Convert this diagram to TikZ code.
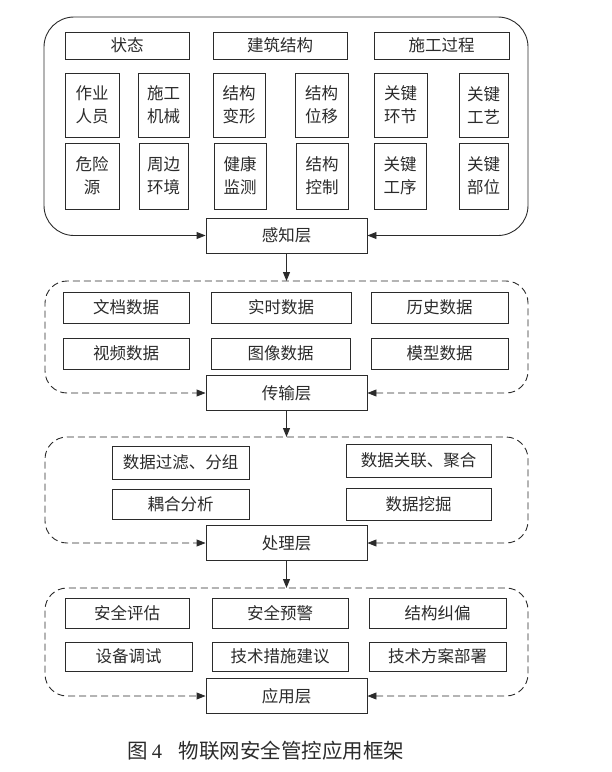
\documentclass[tikz,border=0pt]{standalone}
\usepackage{fontspec}
\setmainfont{Noto Sans CJK SC}
\newfontfamily\numfont{Liberation Serif}
\usetikzlibrary{arrows.meta}
\definecolor{ink}{HTML}{2B2B2B}
\tikzset{
  bx/.style={draw=ink, line width=0.9pt, inner sep=0pt, align=center, text=ink,
    font=\fontsize{16.5}{23}\selectfont},
  layerbox/.style={bx, minimum width=161pt, minimum height=35pt, fill=white},
  arr/.style={draw=ink, line width=0.9pt, -{Triangle[length=9pt,width=7pt]}},
  biarr/.style={draw=ink, line width=0.9pt, {Triangle[length=9pt,width=7pt]}-{Triangle[length=9pt,width=7pt]}},
  dash box/.style={dash pattern=on 7pt off 4pt}
}
\begin{document}
\begin{tikzpicture}[x=1pt,y=-1pt]
\useasboundingbox (0,0) rectangle (612,772);
% ---------- layer 1 ----------
\node[bx, minimum width=124pt, minimum height=27pt] (zt) at (127,45.5) {状态};
\node[bx, minimum width=134pt, minimum height=27pt] (jz) at (280,45.5) {建筑结构};
\node[bx, minimum width=135pt, minimum height=27pt] (sg) at (441.5,45.5) {施工过程};
\node[bx, minimum width=54pt, minimum height=64pt] (a1) at (92,105) {作业\\人员};
\node[bx, minimum width=51pt, minimum height=64pt] (a2) at (163.5,105) {施工\\机械};
\node[bx, minimum width=52pt, minimum height=64pt] (a3) at (239,105) {结构\\变形};
\node[bx, minimum width=53pt, minimum height=64pt] (a4) at (321.5,105) {结构\\位移};
\node[bx, minimum width=53pt, minimum height=64pt] (a5) at (400.5,105) {关键\\环节};
\node[bx, minimum width=49pt, minimum height=64pt] (a6) at (483.5,105) {关键\\工艺};
\node[bx, minimum width=54pt, minimum height=66pt] (b1) at (92,176) {危险\\源};
\node[bx, minimum width=49pt, minimum height=66pt] (b2) at (163.5,176) {周边\\环境};
\node[bx, minimum width=52pt, minimum height=66pt] (b3) at (240,176) {健康\\监测};
\node[bx, minimum width=52pt, minimum height=66pt] (b4) at (322,176) {结构\\控制};
\node[bx, minimum width=52pt, minimum height=66pt] (b5) at (400,176) {关键\\工序};
\node[bx, minimum width=49pt, minimum height=66pt] (b6) at (483.5,176) {关键\\部位};
\node[layerbox] (L1) at (286.5,235.5) {感知层};
\draw[biarr, rounded corners=30pt] (L1.east) -- (528,235.5) -- (528,17) -- (44,17) -- (44,235.5) -- (L1.west);
% ---------- layer 2 ----------
\coordinate (t2) at (286.5,281);
\draw[arr] (L1.south) -- (t2);
\node[bx, minimum width=126pt, minimum height=31pt] (c1) at (126,307.5) {文档数据};
\node[bx, minimum width=140pt, minimum height=31pt] (c2) at (281,307.5) {实时数据};
\node[bx, minimum width=137pt, minimum height=31pt] (c3) at (439.5,307.5) {历史数据};
\node[bx, minimum width=126pt, minimum height=31pt] (d1) at (126,353.5) {视频数据};
\node[bx, minimum width=139pt, minimum height=31pt] (d2) at (280.5,353.5) {图像数据};
\node[bx, minimum width=137pt, minimum height=31pt] (d3) at (439.5,353.5) {模型数据};
\node[layerbox] (L2) at (286.5,393) {传输层};
\draw[biarr, dash box, rounded corners=22pt] (L2.east) -- (528,393) -- (528,281) -- (45,281) -- (45,393) -- (L2.west);
% ---------- layer 3 ----------
\coordinate (t3) at (286.5,437);
\draw[arr] (L2.south) -- (t3);
\node[bx, minimum width=137pt, minimum height=33pt] (e1) at (180.5,462.5) {数据过滤、分组};
\node[bx, minimum width=145pt, minimum height=33pt] (e2) at (418.5,460.5) {数据关联、聚合};
\node[bx, minimum width=137pt, minimum height=30pt] (f1) at (180.5,504) {耦合分析};
\node[bx, minimum width=145pt, minimum height=32pt] (f2) at (418.5,504) {数据挖掘};
\node[layerbox] (L3) at (286.5,543) {处理层};
\draw[biarr, dash box, rounded corners=22pt] (L3.east) -- (528,543) -- (528,437) -- (45,437) -- (45,543) -- (L3.west);
% ---------- layer 4 ----------
\coordinate (t4) at (286.5,588);
\draw[arr] (L3.south) -- (t4);
\node[bx, minimum width=124pt, minimum height=30pt] (g1) at (127,613) {安全评估};
\node[bx, minimum width=136pt, minimum height=30pt] (g2) at (280,613) {安全预警};
\node[bx, minimum width=137pt, minimum height=30pt] (g3) at (437.5,613) {结构纠偏};
\node[bx, minimum width=127pt, minimum height=29pt] (h1) at (128.5,656.5) {设备调试};
\node[bx, minimum width=136pt, minimum height=29pt] (h2) at (280,656.5) {技术措施建议};
\node[bx, minimum width=137pt, minimum height=29pt] (h3) at (437.5,656.5) {技术方案部署};
\node[layerbox] (L4) at (286.5,696) {应用层};
\draw[biarr, dash box, rounded corners=22pt] (L4.east) -- (528,696) -- (528,588) -- (45,588) -- (45,696) -- (L4.west);
% ---------- caption ----------
\node[text=ink, font=\fontsize{20.5}{24}\selectfont, inner sep=0pt] (cap) at (266,751) {图\,{\numfont 4}\hspace{0.8em}物联网安全管控应用框架};
\end{tikzpicture}
\end{document}
